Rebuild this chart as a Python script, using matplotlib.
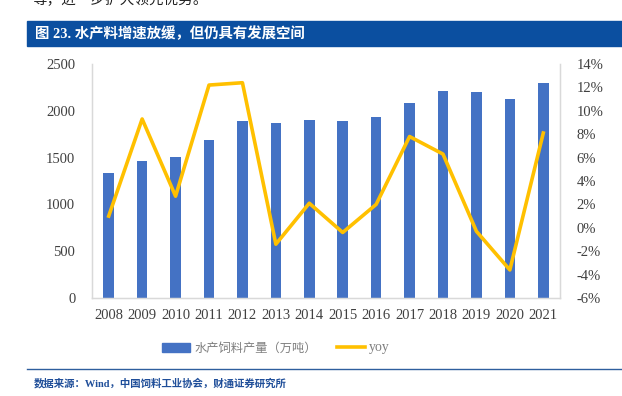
import numpy as np
import matplotlib.pyplot as plt
from matplotlib.patches import Rectangle
from matplotlib.lines import Line2D

plt.rcParams['font.family'] = ['Liberation Serif', 'Noto Sans CJK SC', 'DejaVu Sans']

years = ['2008', '2009', '2010', '2011', '2012', '2013', '2014',
         '2015', '2016', '2017', '2018', '2019', '2020', '2021']
output = [1338, 1464, 1505, 1688, 1892, 1868, 1903,
          1893, 1932, 2082, 2211, 2201, 2124, 2295]
yoy = [1.0, 9.3, 2.7, 12.2, 12.4, -1.4, 2.1,
       -0.4, 2.0, 7.8, 6.3, -0.3, -3.6, 8.1]
left_ticks = [0, 500, 1000, 1500, 2000, 2500]
right_ticks = [-6, -4, -2, 0, 2, 4, 6, 8, 10, 12, 14]

title = '图 23. 水产料增速放缓，但仍具有发展空间'
source = '数据来源：Wind，中国饲料工业协会，财通证券研究所'
bar_label = '水产饲料产量（万吨）'
line_label = 'yoy'

W, H = 622, 396
fig = plt.figure(figsize=(W / 100, H / 100), dpi=100)

# clipped text from the previous page section
fig.text(32 / W, 1 - 7 / H, '等，进一步扩大领先优势。', fontsize=10.5,
         family=['Noto Sans CJK SC'], color='#222222', va='bottom')

# title bar
fig.patches.append(Rectangle((27 / W, 1 - 46 / H), (W - 27) / W, 25 / H,
                             transform=fig.transFigure, color='#0B4FA0'))
fig.text(35 / W, 1 - 33.5 / H, title, fontsize=10.4, fontweight='bold',
         family=['Liberation Serif', 'Noto Sans CJK SC'], color='white',
         va='center')

ax = fig.add_axes([92 / W, 1 - 298 / H, (560 - 92) / W, (298 - 64) / H])
x = np.arange(len(years))
ax.bar(x, output, width=0.32, color='#4472C4', zorder=2)
ax.set_xlim(-0.5, len(years) - 0.5)
ax.set_ylim(0, 2500)
ax.set_yticks(left_ticks)
ax.set_xticks(x)
ax.set_xticklabels(years)
ax.tick_params(length=0, labelsize=10.5, colors='#404040', pad=8)
ax.tick_params(axis='y', pad=12)
ax.spines['top'].set_visible(False)
for s in ['left', 'bottom', 'right']:
    ax.spines[s].set_color('#D9D9D9')
    ax.spines[s].set_linewidth(1)

ax2 = ax.twinx()
ax2.plot(x, yoy, color='#FFC000', linewidth=2.6, zorder=3)
ax2.set_ylim(-6, 14)
ax2.set_yticks(right_ticks)
ax2.set_yticklabels([f'{t}%' for t in right_ticks])
ax2.tick_params(length=0, labelsize=10.5, colors='#404040', pad=12)
ax2.spines['top'].set_visible(False)
for s in ['left', 'bottom', 'right']:
    ax2.spines[s].set_color('#D9D9D9')

handles = [Rectangle((0, 0), 1, 1, color='#4472C4'),
           Line2D([0], [0], color='#FFC000', linewidth=2.6)]
leg = fig.legend(handles, [bar_label, line_label], ncol=2, frameon=False,
                 loc='center', bbox_to_anchor=(276 / W, 1 - 348 / H),
                 fontsize=8.8, handlelength=2.3, columnspacing=1.6,
                 handletextpad=0.35)
for t in leg.get_texts():
    t.set_color('#7F7F7F')
    t.set_family(['Noto Sans CJK SC', 'Liberation Serif'])
leg.get_texts()[1].set_family(['Liberation Serif'])
leg.get_texts()[1].set_fontsize(10)

# separator and source
fig.add_artist(Line2D([27 / W, 1], [1 - 369 / H, 1 - 369 / H],
                      color='#2E5E9E', linewidth=1, transform=fig.transFigure))
fig.text(34 / W, 1 - 383 / H, source, fontsize=7.5, fontweight='bold',
         family=['Liberation Serif', 'Noto Sans CJK SC'], color='#1F4E99',
         va='center')

fig.savefig('out.png', dpi=100)
